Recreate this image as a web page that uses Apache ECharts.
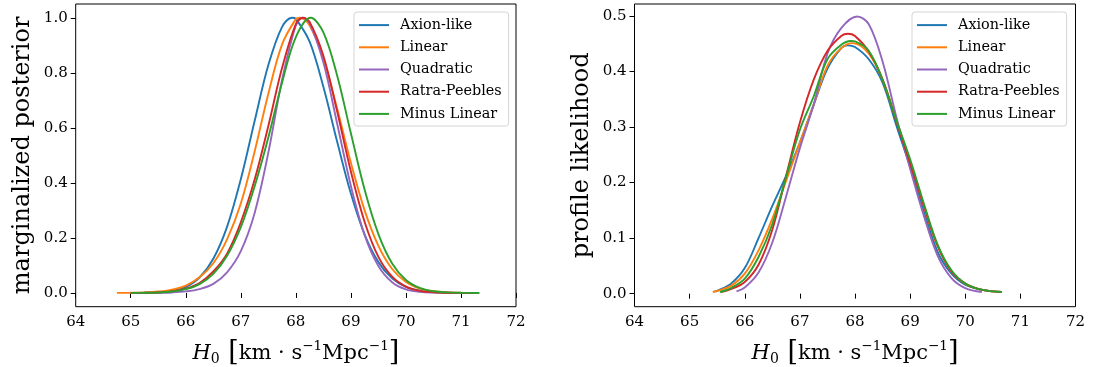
<!DOCTYPE html>
<html>
<head>
<meta charset="utf-8">
<script src="https://cdn.jsdelivr.net/npm/echarts@6/dist/echarts.min.js"></script>
<style>
html,body{margin:0;padding:0;background:#fff;}
#chart{width:1095px;height:367px;}
</style>
</head>
<body>
<div id="chart"></div>
<script>
// ---- data ----
const seriesNames = ['Axion-like', 'Linear', 'Quadratic', 'Ratra-Peebles', 'Minus Linear'];
const seriesColors = ['#1f77b4', '#ff7f0e', '#9467bd', '#d62728', '#2ca02c'];
const xTicks = [64, 65, 66, 67, 68, 69, 70, 71, 72];
const yTicksLeft = [0.0, 0.2, 0.4, 0.6, 0.8, 1.0];
const yTicksRight = [0.0, 0.1, 0.2, 0.3, 0.4, 0.5];

// marginalized posterior (left panel): [H0, value]
const postAxion = [[65.0,0.0002],[65.25,0.0007],[65.5,0.0024],[65.75,0.008],[66.0,0.022],[66.25,0.056],[66.5,0.124],[66.75,0.240],[67.0,0.413],[67.25,0.624],[67.5,0.828],[67.75,0.967],[67.93,1.0],[68.0,0.996],[68.25,0.913],[68.5,0.749],[68.75,0.550],[69.0,0.361],[69.25,0.212],[69.5,0.112],[69.75,0.053],[70.0,0.022],[70.25,0.0084],[70.5,0.0028],[70.75,0.0009],[71.0,0.0002],[71.33,0]];
const postLinear = [[64.75,0.0002],[65.0,0.0006],[65.25,0.0017],[65.5,0.005],[65.75,0.012],[66.0,0.027],[66.25,0.057],[66.5,0.108],[66.75,0.195],[67.0,0.325],[67.25,0.513],[67.5,0.724],[67.75,0.903],[68.0,0.995],[68.07,1.0],[68.25,0.972],[68.5,0.852],[68.75,0.670],[69.0,0.473],[69.25,0.300],[69.5,0.171],[69.75,0.087],[70.0,0.040],[70.25,0.016],[70.5,0.006],[70.75,0.002],[71.0,0.0006],[71.33,0]];
const postQuadratic = [[65.0,0],[65.25,0.0001],[65.5,0.0005],[65.75,0.0018],[66.0,0.0055],[66.25,0.014],[66.5,0.033],[66.75,0.075],[67.0,0.152],[67.25,0.290],[67.5,0.510],[67.75,0.775],[68.0,0.972],[68.12,1.0],[68.25,0.980],[68.5,0.838],[68.75,0.616],[69.0,0.389],[69.25,0.210],[69.5,0.098],[69.75,0.039],[70.0,0.013],[70.25,0.004],[70.5,0.001],[70.75,0.0002],[71.0,0],[71.33,0]];
const postRatra = [[65.0,0.0001],[65.25,0.0005],[65.5,0.0018],[65.75,0.0056],[66.0,0.016],[66.25,0.036],[66.5,0.078],[66.75,0.143],[67.0,0.257],[67.25,0.411],[67.5,0.607],[67.75,0.818],[68.0,0.977],[68.13,1.0],[68.25,0.985],[68.5,0.862],[68.75,0.660],[69.0,0.441],[69.25,0.258],[69.5,0.131],[69.75,0.059],[70.0,0.023],[70.25,0.0077],[70.5,0.0023],[70.75,0.0006],[71.0,0.0001],[71.33,0]];
const postMinus = [[65.0,0.0002],[65.25,0.0006],[65.5,0.0018],[65.75,0.0054],[66.0,0.0137],[66.25,0.032],[66.5,0.069],[66.75,0.135],[67.0,0.239],[67.25,0.387],[67.5,0.565],[67.75,0.765],[68.0,0.930],[68.27,1.0],[68.5,0.947],[68.75,0.790],[69.0,0.580],[69.25,0.375],[69.5,0.214],[69.75,0.107],[70.0,0.047],[70.25,0.018],[70.5,0.006],[70.75,0.0019],[71.0,0.0005],[71.33,0]];

// profile likelihood (right panel): [H0, value]
const profAxion = [[65.45,0.004],[65.5,0.005],[65.75,0.018],[66.0,0.046],[66.25,0.100],[66.5,0.158],[66.75,0.212],[67.0,0.272],[67.25,0.340],[67.5,0.405],[67.75,0.442],[67.87,0.447],[68.0,0.444],[68.25,0.422],[68.5,0.380],[68.75,0.303],[69.0,0.228],[69.25,0.148],[69.5,0.075],[69.75,0.036],[70.0,0.016],[70.25,0.008],[70.5,0.004],[70.66,0.003]];
const profLinear = [[65.42,0.003],[65.5,0.005],[65.75,0.014],[66.0,0.036],[66.25,0.078],[66.5,0.135],[66.75,0.203],[67.0,0.272],[67.25,0.340],[67.5,0.410],[67.75,0.442],[67.96,0.451],[68.25,0.432],[68.5,0.385],[68.75,0.312],[69.0,0.238],[69.25,0.158],[69.5,0.085],[69.75,0.040],[70.0,0.018],[70.25,0.008],[70.5,0.004],[70.66,0.003]];
const profQuadratic = [[65.85,0.004],[66.0,0.011],[66.25,0.038],[66.5,0.092],[66.75,0.175],[67.0,0.262],[67.25,0.340],[67.5,0.432],[67.75,0.478],[68.04,0.499],[68.25,0.485],[68.5,0.418],[68.75,0.318],[69.0,0.225],[69.25,0.140],[69.5,0.068],[69.75,0.028],[70.0,0.010],[70.3,0.003]];
const profRatra = [[65.57,0.003],[65.75,0.008],[66.0,0.021],[66.25,0.052],[66.5,0.115],[66.75,0.212],[67.0,0.308],[67.25,0.385],[67.5,0.437],[67.75,0.464],[67.87,0.468],[68.0,0.464],[68.25,0.436],[68.5,0.386],[68.75,0.310],[69.0,0.235],[69.25,0.158],[69.5,0.086],[69.75,0.040],[70.0,0.018],[70.25,0.008],[70.5,0.004],[70.66,0.003]];
const profMinus = [[65.55,0.003],[65.75,0.010],[66.0,0.027],[66.25,0.066],[66.5,0.125],[66.75,0.210],[67.0,0.295],[67.25,0.355],[67.5,0.422],[67.75,0.448],[67.92,0.455],[68.0,0.454],[68.25,0.437],[68.5,0.385],[68.75,0.312],[69.0,0.242],[69.25,0.162],[69.5,0.088],[69.75,0.042],[70.0,0.018],[70.25,0.008],[70.5,0.004],[70.66,0.003]];

const leftData = [postAxion, postLinear, postQuadratic, postRatra, postMinus];
const rightData = [profAxion, profLinear, profQuadratic, profRatra, profMinus];

// ---- chart ----
const FONT = 'DejaVu Serif';
const chart = echarts.init(document.getElementById('chart'), null, {renderer: 'canvas'});

const xName = '{i|H}{s|0}{b| [}{t|km · s}{p|−1}{t|Mpc}{p|−1}{b|]}';
const xRich = {
  i: {fontFamily: FONT, fontStyle: 'italic', fontSize: 21, color: '#000', verticalAlign: 'middle'},
  s: {fontFamily: FONT, fontSize: 14, color: '#000', verticalAlign: 'bottom'},
  t: {fontFamily: FONT, fontSize: 21, color: '#000', verticalAlign: 'middle'},
  p: {fontFamily: FONT, fontSize: 13.5, color: '#000', verticalAlign: 'top'},
  b: {fontFamily: FONT, fontSize: 27, color: '#000', verticalAlign: 'middle'}
};

function xAxis(idx) {
  return {
    type: 'value', gridIndex: idx, min: 64, max: 72, interval: 1,
    name: xName, nameLocation: 'middle', nameGap: 33,
    nameTextStyle: {rich: xRich},
    axisLine: {show: false},
    axisTick: {show: true, inside: false, length: 5, lineStyle: {color: '#000', width: 1}},
    axisLabel: {fontFamily: FONT, fontSize: 15, color: '#000', margin: 8},
    splitLine: {show: false}
  };
}
function yAxis(idx, min, max, ticks, name) {
  return {
    type: 'value', gridIndex: idx, min: min, max: max,
    name: name, nameLocation: 'middle', nameGap: 41, nameRotate: 90,
    nameTextStyle: {fontFamily: FONT, fontSize: 24, color: '#000'},
    axisLine: {show: false},
    axisTick: {show: true, inside: false, length: 5, customValues: ticks, lineStyle: {color: '#000', width: 1}},
    axisLabel: {fontFamily: FONT, fontSize: 15, color: '#000', margin: 8, customValues: ticks,
      formatter: v => v.toFixed(1)},
    splitLine: {show: false}
  };
}
function legend(left) {
  return {
    left: left, top: 12, orient: 'vertical',
    itemWidth: 30, itemHeight: 2, itemGap: 6, icon: 'rect',
    padding: [5, 7, 4, 5],
    backgroundColor: 'rgba(255,255,255,0.8)', borderColor: '#d5d5d5', borderWidth: 1, borderRadius: 3,
    textStyle: {fontFamily: FONT, fontSize: 14.4, color: '#000', lineHeight: 16.2, padding: [0, 0, 0, 6]},
    data: seriesNames
  };
}

const series = [];
seriesNames.forEach((n, k) => {
  series.push({name: n, type: 'line', xAxisIndex: 0, yAxisIndex: 0, data: leftData[k],
    showSymbol: false, symbol: 'none', smooth: 0.35, color: seriesColors[k],
    lineStyle: {width: 1.9, color: seriesColors[k]}, z: 2 + k * 0.01});
});
seriesNames.forEach((n, k) => {
  series.push({name: n, type: 'line', xAxisIndex: 1, yAxisIndex: 1, data: rightData[k],
    showSymbol: false, symbol: 'none', smooth: 0.35, color: seriesColors[k],
    lineStyle: {width: 1.9, color: seriesColors[k]}, z: 2 + k * 0.01});
});

chart.setOption({
  animation: false,
  backgroundColor: '#fff',
  grid: [
    {left: 75.7, right: 579, top: 4, bottom: 60.3, show: true, borderColor: '#000', borderWidth: 1,
     containLabel: false, outerBoundsMode: 'none'},
    {left: 634.5, right: 19.5, top: 4, bottom: 60.3, show: true, borderColor: '#000', borderWidth: 1,
     containLabel: false, outerBoundsMode: 'none'}
  ],
  xAxis: [xAxis(0), xAxis(1)],
  yAxis: [
    yAxis(0, -0.05, 1.05, yTicksLeft, 'marginalized posterior'),
    yAxis(1, -0.0235, 0.5215, yTicksRight, 'profile likelihood')
  ],
  legend: [legend(354), legend(912)],
  series: series
});
</script>
</body>
</html>
